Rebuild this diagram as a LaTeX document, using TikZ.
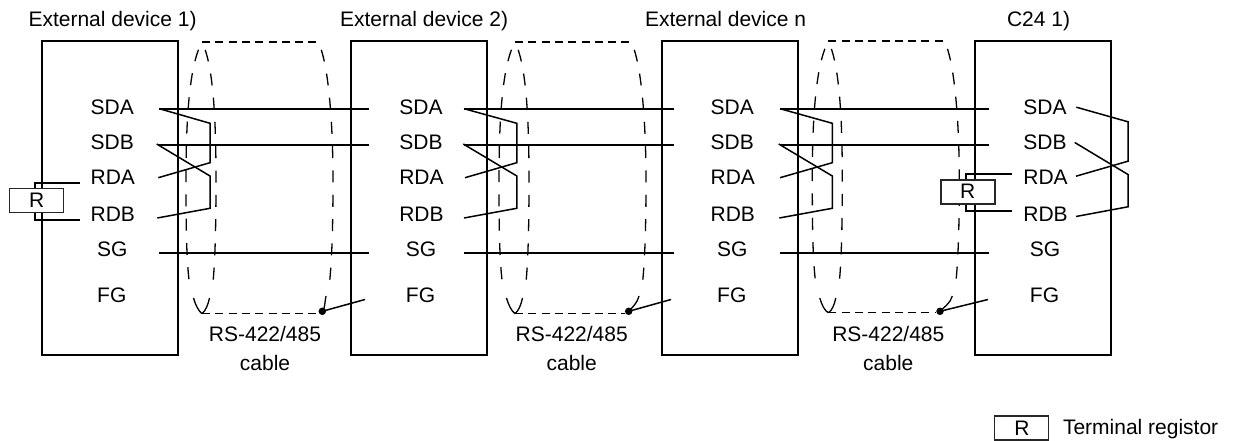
\documentclass[tikz,border=0pt]{standalone}
\usepackage{fontspec}
\setmainfont{Liberation Sans}
\tikzset{
  devbox/.style={draw=black,line width=2bp,fill=none,inner sep=0pt,outer sep=0pt},
  rbox/.style={draw=black!85,line width=1.2bp,fill=white,inner sep=0pt,outer sep=0pt,minimum width=54bp,minimum height=24bp},
  lbl/.style={inner sep=0pt,outer sep=0pt,anchor=base,font=\fontsize{21bp}{24bp}\selectfont,text=black},
  lblw/.style={lbl,anchor=base west},
  wire/.style={line width=2bp,draw=black},
  cross/.style={line width=1.5bp,draw=black,line join=miter},
  stub/.style={line width=1.8bp,draw=black},
  shieldtop/.style={line width=1.5bp,draw=black,dash pattern=on 8bp off 5.3bp},
  shieldside/.style={line width=1.3bp,draw=black,dash pattern=on 12bp off 12.3bp,dash phase=15.8bp},
  shieldend/.style={line width=1.3bp,draw=black},
  grounddot/.style={circle,fill=black,inner sep=0pt,minimum size=7.5bp,outer sep=0pt}
}
% pin labels of one device: prefix, centre x
\newcommand{\pinset}[2]{%
  \node[lbl] (#1sda) at (#2,114.5) {SDA};
  \node[lbl] (#1sdb) at (#2,149.5) {SDB};
  \node[lbl] (#1rda) at (#2+0.5,184.5) {RDA};
  \node[lbl] (#1rdb) at (#2+0.5,222) {RDB};
  \node[lbl] (#1sg) at (#2,257) {SG};
  \node[lbl] (#1fg) at (#2-0.5,302.5) {FG};
}
% crossover: name, xSDA, xSDB, xRDA, xRDB, xknee, y offset
\newcommand{\crossover}[7]{%
  \coordinate (#1a0) at (#2,108.7+#7); \coordinate (#1a1) at (#6,123.3+#7);
  \coordinate (#1a2) at (#6,162.7+#7); \coordinate (#1a3) at (#4,177.7+#7);
  \coordinate (#1b0) at (#3,144+#7); \coordinate (#1b1) at (#6,176+#7);
  \coordinate (#1b2) at (#6,208.3+#7); \coordinate (#1b3) at (#5,218+#7);
  \draw[cross] (#1a0) -- (#1a1) -- (#1a2) -- (#1a3);
  \draw[cross] (#1b0) -- (#1b1) -- (#1b2) -- (#1b3);
}
% wires: name, x start, x end
\newcommand{\wires}[3]{%
  \coordinate (#1sa) at (#2,108.7); \coordinate (#1ea) at (#3,108.7);
  \coordinate (#1sb) at (#2,145); \coordinate (#1eb) at (#3,145);
  \coordinate (#1sg) at (#2,252.7); \coordinate (#1eg) at (#3,252.7);
  \draw[wire] (#1sa) -- (#1ea);
  \draw[wire] (#1sb) -- (#1eb);
  \draw[wire] (#1sg) -- (#1eg);
}
% shield: name, x offset, y top, y bottom, dot x, fg end x
\newcommand{\shield}[6]{%
  \coordinate (#1top) at (202+#2,#3); \coordinate (#1bot) at (202+#2,#4);
  \coordinate (#1tr) at (318+#2,#3); \coordinate (#1br) at (#5-4,#4);
  \draw[shieldtop] (#1top) -- (#1tr);
  \draw[shieldtop] (#1bot) -- (#1br);
  \draw[shieldside] (#1top) .. controls (192+#2,60) and (186+#2,100) .. (186+#2,178)
     .. controls (186+#2,230) and (186.5+#2,265) .. (190+#2,287);
  \draw[shieldend] (193.5+#2,298) .. controls (195.5+#2,305) and (198.5+#2,311) .. (#1bot);
  \draw[shieldside] (#1top) .. controls (211+#2,60) and (216+#2,100) .. (216+#2,178)
     .. controls (216+#2,230) and (215+#2,265) .. (212.5+#2,287);
  \draw[shieldend] (209.5+#2,298) .. controls (208+#2,305) and (205.5+#2,311) .. (#1bot);
  \node[grounddot] (#1dot) at (#5,311.3) {};
  \draw[shieldside] (#1tr) .. controls (328+#2,60) and (333+#2,120) .. (333+#2,180)
     .. controls (333+#2,225) and (332+#2,260) .. (329.3+#2,285);
  \draw[shieldend] (326+#2,296) .. controls (324.5+#2,303) and (#5+3,308) .. (#1dot.center);
  \coordinate (#1fg) at (#6,299.5);
  \draw[cross] (#1dot.center) -- (#1fg);
}
\begin{document}
\begin{tikzpicture}[x=1bp,y=-1bp]
\useasboundingbox (0,0) rectangle (1239,441);
% device boxes
\node[devbox,minimum width=136bp,minimum height=314bp] (d1) at (110,198.2) {};
\node[devbox,minimum width=136bp,minimum height=314bp] (d2) at (419,198.2) {};
\node[devbox,minimum width=136bp,minimum height=314bp] (d3) at (730,198.2) {};
\node[devbox,minimum width=136bp,minimum height=314bp] (d4) at (1043,198.2) {};
% titles
\node[lblw] (t1) at (28.5,26.5) {External device 1)};
\node[lblw] (t2) at (340,26.5) {External device 2)};
\node[lblw] (t3) at (645,26.5) {External device n};
\node[lblw] (t4) at (1007,26.5) {C24 1)};
% shields
\shield{c1}{0}{42}{313.7}{322.3}{365}
\shield{c2}{313}{42}{313.7}{628.7}{671}
\shield{c3}{626.3}{41}{312.7}{940}{988}
% signal wires
\wires{w1}{159.3}{369}
\wires{w2}{464}{674}
\wires{w3}{780}{989}
% crossovers
\crossover{k1}{159.3}{156.7}{158.3}{157.3}{210}{0}
\crossover{k2}{464}{463.3}{465}{464}{516.8}{0}
\crossover{k3}{780}{778.7}{780}{779.3}{832.3}{0}
\crossover{k4}{1076.3}{1074.7}{1076}{1076}{1128}{-1.5}
% pin labels
\pinset{a}{112.3}
\pinset{b}{421}
\pinset{c}{732.3}
\pinset{e}{1045}
% terminal resistor, left
\coordinate (la) at (80,182.7); \coordinate (la1) at (35,182.7); \coordinate (la2) at (35,195);
\coordinate (lb) at (80,219.7); \coordinate (lb1) at (35,219.7); \coordinate (lb2) at (35,205);
\draw[stub] (la) -- (la1) -- (la2);
\draw[stub] (lb) -- (lb1) -- (lb2);
\node[rbox] (r1) at (36.3,200.3) {};
\node[lbl] (r1t) at (36.7,207.5) {R};
% terminal resistor, right
\coordinate (ra) at (1012,174); \coordinate (ra1) at (965.7,174); \coordinate (ra2) at (965.7,185);
\coordinate (rb) at (1012,211); \coordinate (rb1) at (965.7,211); \coordinate (rb2) at (965.7,198);
\draw[stub] (ra) -- (ra1) -- (ra2);
\draw[stub] (rb) -- (rb1) -- (rb2);
\node[rbox] (r2) at (968,192) {};
\node[lbl] (r2t) at (967.7,198.8) {R};
% cable labels
\node[lbl] (cl1) at (265,341.5) {RS-422/485};
\node[lbl] (cc1) at (265,370.5) {cable};
\node[lbl] (cl2) at (571.7,341.5) {RS-422/485};
\node[lbl] (cc2) at (571.7,370.5) {cable};
\node[lbl] (cl3) at (888.3,341.5) {RS-422/485};
\node[lbl] (cc3) at (888.3,370.5) {cable};
% legend
\node[rbox] (r3) at (1021.5,428) {};
\node[lbl] (r3t) at (1022,435.5) {R};
\node[lblw] (leg) at (1063,434.5) {Terminal registor};
\end{tikzpicture}
\end{document}
